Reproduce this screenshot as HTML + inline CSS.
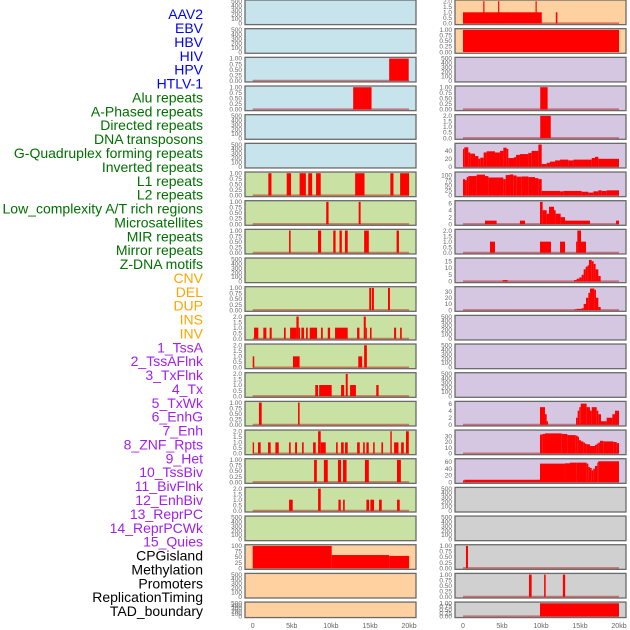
<!DOCTYPE html>
<html><head><meta charset="utf-8"><style>
html,body{margin:0;padding:0;background:#fff;width:630px;height:630px;overflow:hidden}
svg{display:block}
</style></head><body>
<svg id="chart" width="630" height="630" xmlns="http://www.w3.org/2000/svg" font-family="Liberation Sans, sans-serif"></svg>
<script>
const trackLabels = ["AAV2","EBV","HBV","HIV","HPV","HTLV-1","Alu repeats","A-Phased repeats","Directed repeats","DNA transposons","G-Quadruplex forming repeats","Inverted repeats","L1 repeats","L2 repeats","Low_complexity A/T rich regions","Microsatellites","MIR repeats","Mirror repeats","Z-DNA motifs","CNV","DEL","DUP","INS","INV","1_TssA","2_TssAFlnk","3_TxFlnk","4_Tx","5_TxWk","6_EnhG","7_Enh","8_ZNF_Rpts","9_Het","10_TssBiv","11_BivFlnk","12_EnhBiv","13_ReprPC","14_ReprPCWk","15_Quies","CPGisland","Methylation","Promoters","ReplicationTiming","TAD_boundary"];
const labelGroups = [6,13,5,15,5];
const groupColors = ["#0000ff","#007000","#ffa500","#a020f0","#000000"];
const xTickValues = [0,5,10,15,20];
const xTickLabels = ["0","5kb","10kb","15kb","20kb"];
const leftBg = ["b","b","b","b","b","b","g","g","g","g","g","g","g","g","g","g","g","g","g","o","o","o"];
const rightBg = ["o","o","p","p","p","p","p","p","p","p","p","p","p","p","p","p","p","y","y","y","y","y"];
const leftYMax = [500,500,1,1,500,500,1,1,1,500,1,2,2,2,1,2,1,2,500,100,500,500];
const rightYMax = [2,1,500,1,2,56,109,6.4,2,16.5,36,500,500,500,6.3,38.7,66,500,500,1,1,1];
const T1=["1.00","0.75","0.50","0.25","0.00"], T2=["2.0","1.5","1.0","0.5","0.0"], TE=["500","400","300","200","100","0"];
const leftTicks = [TE,TE,T1,T1,TE,TE,T1,T1,T1,TE,T1,T2,T2,T2,T1,T2,T1,T2,TE,["100","75","50","25","0"],TE,TE];
const rightTicks = [T2,T1,TE,T1,T2,["40","20","0"],["100","75","50","25","0"],["6","4","2","0"],T2,["15","10","5","0"],["30","20","10","0"],TE,TE,TE,["6","4","2","0"],["30","20","10","0"],["60","40","20","0"],TE,TE,T1,T1,T1];
const leftSegs = [
 [],[],[[17.45,19.95,1]],[[12.85,15.2,1]],[],[],
 [[2.0,2.4,1],[4.35,4.9,1],[6.0,6.8,1],[7.1,7.6,1],[8.1,8.7,1],[13.1,14.3,1],[17.6,18.0,1],[18.85,20.0,1]],
 [[9.4,9.7,1],[13.55,13.8,1]],
 [[4.65,4.85,1],[8.35,8.75,1],[10.3,10.6,1],[11.1,11.4,1],[11.8,12.15,1],[14.25,14.85,1],[18.4,18.7,1]],
 [],
 [[14.9,15.15,1],[15.25,15.5,1],[17.3,17.55,1]],
 [[0.17,0.72,1],[1.36,1.75,1],[2.17,2.43,1],[4.0,4.22,1],[4.78,5.59,1],[5.59,5.88,2],[5.88,6.05,1],[6.22,6.57,1],[6.82,7.04,1],[7.29,8.23,1],[8.74,8.96,1],[9.6,9.9,1],[10.53,12.15,1],[13.35,13.65,1],[14.2,14.46,2],[14.46,14.6,1],[15.0,15.2,1],[18.08,18.34,1],[18.85,19.06,1]],
 [[0,0.2,1],[5.15,6.0,1],[13.5,14.0,1],[14.25,14.6,2]],
 [[8.0,8.35,1],[8.5,10.1,1],[11.3,11.7,1],[11.9,12.15,2],[12.45,13.2,1],[15.8,16.1,1]],
 [[0.8,1.15,1],[5.8,6.0,1]],
 [[0,0.17,1],[0.68,1.02,1],[1.96,2.3,1],[2.9,3.33,1],[4.65,4.86,1],[5.42,5.67,1],[6.31,6.52,1],[7.72,8.06,1],[8.36,8.7,2],[8.7,9.34,1],[10.66,10.87,1],[11.3,11.64,1],[11.81,12.15,1],[13.35,13.69,1],[14.12,14.33,1],[14.54,14.84,1],[15.4,15.6,1],[16.46,16.67,1],[17.6,17.78,2],[18.08,18.64,1],[18.98,19.32,1],[19.6,19.96,2]],
 [[7.85,8.2,1],[9.1,9.6,1],[10.9,11.3,1],[11.55,12.0,1],[14.35,14.85,1],[18.45,18.95,1]],
 [[4.65,5.12,1],[8.36,8.7,2],[10.96,11.26,1],[11.56,11.77,1],[14.54,14.88,1],[15.05,15.52,1],[16.16,16.5,1],[18.46,18.8,1]],
 [],
 [[0,10.1,100],[10.1,17.45,59],[17.45,20,55]],
 [],[]
];
const r5Breaks=[0,0.17,0.68,0.94,1.54,1.97,2.22,2.65,3.03,4.1,4.74,5.17,5.6,5.81,6.54,6.8,7.3,8.38,8.8,9.66,10.09,10.73,11.15,11.8,12.44,13.5,14.15,16.5,16.92,17.35,20];
const r5Vals=[45,49,36,33,27,20,23,36,39,36,40,48,45,22,24,30,32,35,40,56,7,10,13,16,18,16,18,22,25,20];
const r6Breaks=[0,0.26,0.47,0.68,1.75,2.82,3.25,5.17,5.47,6.03,6.45,6.88,7.52,8.38,9.23,9.66,10.09,12.44,12.86,15.21,16.07,16.71,17.35,17.78,18.42,20];
const r6Vals=[80,75,90,95,102,95,88,80,100,103,98,92,93,90,85,80,22,20,22,18,14,20,25,22,25];
const r9Breaks=[14.23,14.57,14.91,15.21,15.47,15.73,15.98,16.15,16.5,16.75,17.0,17.35,17.65];
const r9Vals=[1,2,3,5,9,11,12,16,15,13,9,4];
const r10Breaks=[14.23,14.57,15.21,15.47,15.77,16.07,16.28,16.84,17.05,17.35,17.65];
const r10Vals=[1,2,3,10,20,28,35,33,20,5];
const r14Breaks=[14.49,14.7,14.91,15.09,15.85,16.28,16.5,17.14,17.35,17.69,18.42,19.15,19.49,20.0];
const r14Vals=[2,4,5,6,5,4,5,4,3,1,2,3,4];
const r15Breaks=[9.87,10.17,10.51,12.65,13.38,14.44,14.7,14.87,15.13,15.43,15.64,15.85,16.28,16.92,17.14,17.35,17.56,17.99,19.27,19.7,20.0];
const r15Vals=[33,34,35,34,32,31,29,23,21,19,17,16,13,15,17,19,22,21,20,18];
const r16Breaks=[0,0.17,9.87,13.08,13.72,14.57,15.85,16.07,16.28,16.5,16.71,16.92,17.22,17.35,20.0];
const r16Vals=[5,7,55,56,58,58,55,45,42,35,40,48,58,62];
function steps(b,v){const o=[];for(let i=0;i<v.length;i++)o.push([b[i],b[i+1],v[i]]);return o;}
const rightSegs = [
 [[0,10.1,1],[2.6,2.75,2],[4.5,4.65,2],[9.3,9.45,2],[11.9,12.1,1]],
 [[0,20,1]],[],[[9.9,10.85,1]],[[9.9,11.25,2]],
 steps(r5Breaks,r5Vals), steps(r6Breaks,r6Vals),
 [[2.82,4.31,1],[7.3,7.95,1],[9.87,10.21,6.4],[10.21,10.73,4],[10.73,11.03,3],[11.03,11.67,5],[11.67,11.88,4],[11.88,12.52,3],[12.52,13.08,2],[13.08,16.28,1],[19.62,20.0,1]],
 [[3.46,4.1,1],[9.87,11.28,1],[12.44,13.08,1],[14.5,14.66,1],[14.66,15.13,2],[15.13,15.77,1]],
 [[5.09,5.73,1]].concat(steps(r9Breaks,r9Vals)),
 steps(r10Breaks,r10Vals),
 [],[],[],
 [[9.87,10.51,5],[10.51,10.73,3],[10.73,10.9,1]].concat(steps(r14Breaks,r14Vals)),
 steps(r15Breaks,r15Vals), steps(r16Breaks,r16Vals),
 [],[],
 [[0.38,0.64,1]],
 [[8.46,8.8,1],[10.4,10.6,1],[12.8,13.1,1]],
 [[9.87,20,1]]
];
const bgColors={b:"#c7e4ec",g:"#c9e2a3",o:"#ffd1a0",p:"#d5c6e2",y:"#d0d0d0"};
const NS="http://www.w3.org/2000/svg";
const svg=document.getElementById('chart');
function mk(tag,at,parent){const e=document.createElementNS(NS,tag);for(const k in at)e.setAttribute(k,at[k]);(parent||svg).appendChild(e);return e;}
let k=0;
labelGroups.forEach((n,g)=>{for(let j=0;j<n;j++){const t=mk('text',{x:203,y:15.5+13.88*k,'text-anchor':'end','dominant-baseline':'middle','font-size':'14',fill:groupColors[g]});t.textContent=trackLabels[k];


k++;}});
const cols=[{x0:245,x1:416,z:252.7,s:7.82,bg:leftBg,ym:leftYMax,tk:leftTicks,sg:leftSegs,name:'left'},
            {x0:455,x1:626,z:463,s:7.8,bg:rightBg,ym:rightYMax,tk:rightTicks,sg:rightSegs,name:'right'}];
cols.forEach(c=>{
 const xs=v=>c.z+v*c.s;
 for(let i=0;i<22;i++){
  const top=i*28.67, h=(i==21)?15.5:24.6, bot=top+h;
  const g=mk('g',{});
  
  
  mk('rect',{x:c.x0,y:top,width:c.x1-c.x0,height:h,fill:bgColors[c.bg[i]]},g);
  const ym=c.ym[i];
  const ys=v=>bot-1.2-(v/ym)*(h-2.4);
  const segs=c.sg[i];
  if(segs.length && !(c.name=='right'&&i==1)) mk('line',{x1:xs(0),x2:xs(20),y1:ys(0),y2:ys(0),stroke:'rgba(190,0,0,0.45)','stroke-width':2},g);
  segs.forEach(s=>{const r=mk('rect',{x:xs(s[0]),y:ys(Math.min(s[2],ym)),width:Math.max(xs(s[1])-xs(s[0]),1),height:ys(0)-ys(Math.min(s[2],ym)),fill:'#ff0000'},g);
   
   });
  mk('rect',{x:c.x0,y:top,width:c.x1-c.x0,height:h,fill:'none',stroke:'#6a6a6a','stroke-width':1.3},g);
  const tl=c.tk[i];
  tl.forEach((lab,j)=>{const v=parseFloat(lab);const t=mk('text',{x:c.x0-3,y:ys(v)+2.2,'text-anchor':'end','font-size':'6.5',fill:'#666'},g);t.textContent=lab;
   
   });
 }
 xTickValues.forEach((v,j)=>{const t=mk('text',{x:xs(v),y:628,'text-anchor':'middle','font-size':'7',fill:'#666'});t.textContent=xTickLabels[j];
  
  });
});
</script>
</body></html>
